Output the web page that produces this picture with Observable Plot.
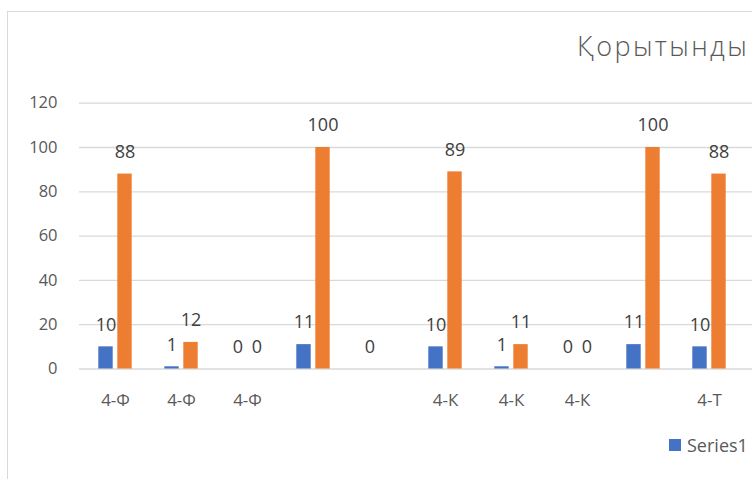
<!DOCTYPE html>
<html>
<head>
<meta charset="utf-8">
<script src="https://cdn.jsdelivr.net/npm/d3@7"></script>
<script src="https://cdn.jsdelivr.net/npm/@observablehq/plot@0.6"></script>
<style>
  html, body { margin: 0; padding: 0; background: #fff; }
  body { width: 752px; height: 479px; overflow: hidden; position: relative; font-family: "Open Sans", sans-serif; }
  #border { position: absolute; left: 7px; top: 11px; width: 900px; height: 600px; border: 1.5px solid #d9d9d9; box-sizing: border-box; }
  #title { position: absolute; left: 577px; top: 27px; font-size: 27px; letter-spacing: 2.4px; font-weight: 300; color: #595959; white-space: nowrap; }
  #legend { position: absolute; left: 669px; top: 433px; font-size: 18px; color: #595959; white-space: nowrap; display: flex; align-items: center; }
  #legend .sw { display: inline-block; width: 12px; height: 12px; margin-right: 6px; }
  #chart { position: absolute; left: 0; top: 0; }
</style>
</head>
<body>
<div id="border"></div>
<div id="chart"></div>
<div id="title">Қорытынды</div>
<div id="legend"></div>
<script>
const categories = ["4-Ф", "4-Ф", "4-Ф", "", "", "4-К", "4-К", "4-К", "", "4-Т"];
const series1 = [10, 1, 0, 11, 0, 10, 1, 0, 11, 10];
const series2 = [88, 12, 0, 100, null, 89, 11, 0, 100, 88];
const seriesNames = ["Series1", "Series2"];
const colors = ["#4472C4", "#ED7D31"];
const yTicks = [0, 20, 40, 60, 80, 100, 120];

const idx = categories.map((_, i) => String(i));
const rows1 = series1.map((v, i) => ({ k: String(i), v }));
const rows2 = series2.map((v, i) => ({ k: String(i), v })).filter(d => d.v != null);

const bw = 66.55;
const chart = Plot.plot({
  width: 752,
  height: 479,
  marginLeft: 79,
  marginRight: 0,
  marginTop: 102.7,
  marginBottom: 110.5,
  style: { fontFamily: "Open Sans, sans-serif", background: "transparent" },
  x: { type: "band", domain: idx, range: [79, 79 + bw * idx.length], paddingInner: 0, paddingOuter: 0 },
  y: { domain: [0, 120] },
  marks: [
    Plot.ruleY(yTicks, { stroke: "#d9d9d9", strokeWidth: 1.3 }),
    Plot.barY(rows1, { x: "k", y: "v", fill: colors[0], insetLeft: 16.3, insetRight: 35.3 }),
    Plot.barY(rows2, { x: "k", y: "v", fill: colors[1], insetLeft: 35.3, insetRight: 16.3 }),
    Plot.text(rows1, { x: "k", y: "v", text: d => String(d.v), dx: -9.5, dy: -22, fontSize: 18, fill: "#404040", lineAnchor: "middle" }),
    Plot.text(rows2, { x: "k", y: "v", text: d => String(d.v), dx: 9.5, dy: -22, fontSize: 18, fill: "#404040", lineAnchor: "middle" }),
    Plot.axisY({ ticks: yTicks, tickSize: 0, tickPadding: 22, fontSize: 16.5, color: "#595959", label: null }),
    Plot.axisX({ tickSize: 0, tickPadding: 25, fontSize: 17, color: "#595959", tickFormat: i => categories[+i], label: null })
  ]
});
document.getElementById("chart").appendChild(chart);

const legend = document.getElementById("legend");
const sw = document.createElement("span");
sw.className = "sw";
sw.style.background = colors[0];
legend.appendChild(sw);
legend.appendChild(document.createTextNode(seriesNames[0]));
</script>
</body>
</html>
